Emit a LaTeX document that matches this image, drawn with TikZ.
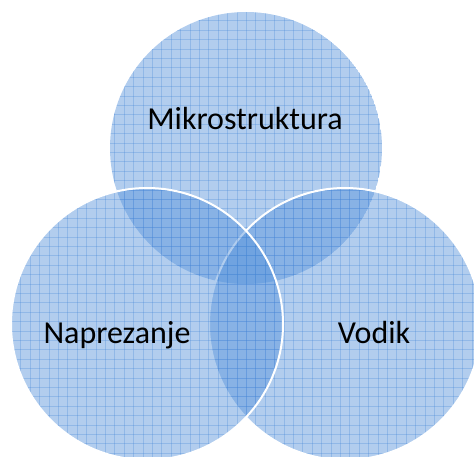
\documentclass[tikz,border=0pt]{standalone}
\usepackage{fontspec}
\setmainfont{Carlito}
\definecolor{vennblue}{RGB}{84,145,218}
\definecolor{gridblue}{RGB}{70,135,215}
\begin{document}
\begin{tikzpicture}[x=1pt,y=-1pt,
    venn/.style={fill=vennblue,fill opacity=0.45},
    gridline/.style={gridblue,line width=0.7pt,opacity=0.3},
    rim/.style={draw=white,line width=2pt},
    setname/.style={anchor=base,text=black,font=\fontsize{32}{36}\selectfont}]
	\useasboundingbox (0,0) rectangle (474,457);
	\clip (0,0) rectangle (474,457);
	\coordinate (mikro) at (246,148);
	\coordinate (napr) at (147,324);
	\coordinate (vodik) at (345,324);
	% top, right, left: the left one lies on top
	\foreach \c/\o in {mikro/0,vodik/1,napr/1}{
		\begin{scope}
			\clip (\c) circle (136);
			\fill[venn] (\c) circle (136);
			\foreach \g in {2,11.4,...,480}{
				\draw[gridline] (\g,0) -- (\g,457);
				\draw[gridline] (0,\g) -- (474,\g);
			}
		\end{scope}
		\draw[rim,draw opacity=\o] (\c) circle (136);
	}
	\node[setname] (mikrotext) at (245,130) {Mikrostruktura};
	\node[setname] (naprtext) at (117,343) {Naprezanje};
	\node[setname] (vodiktext) at (374,343) {Vodik};
\end{tikzpicture}
\end{document}
